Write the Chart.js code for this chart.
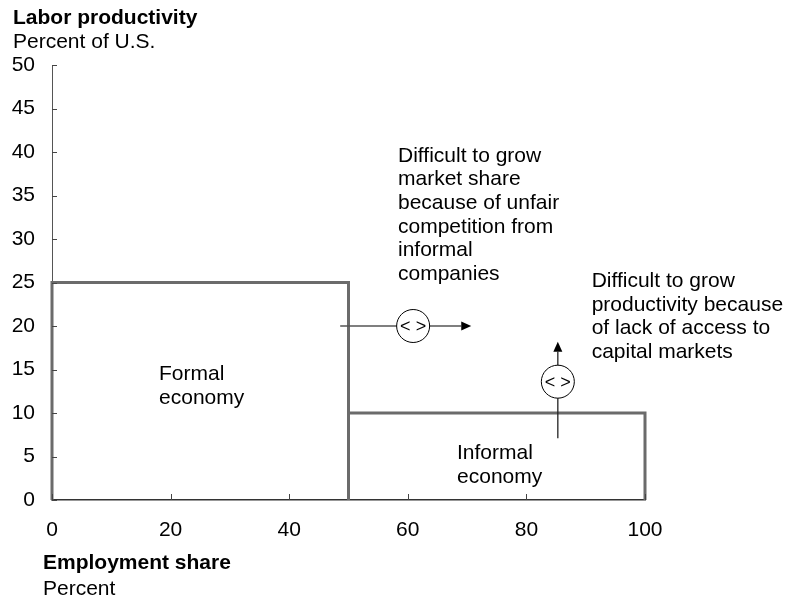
<!DOCTYPE html>
<html>
<head>
<meta charset="utf-8">
<script src="https://cdn.jsdelivr.net/npm/chart.js@4/dist/chart.umd.min.js"></script>
<style>
  html, body { margin: 0; padding: 0; background: #ffffff; }
  #wrap { width: 791px; height: 604px; position: relative; }
</style>
</head>
<body>
<div id="wrap"><canvas id="c" width="791" height="604"></canvas></div>
<script>
// ---- data ----
const formalX = [0, 0, 50, 50];
const formalY = [0, 25, 25, 0];
const informalX = [50, 50, 100, 100];
const informalY = [0, 10, 10, 0];

const yTicks = [0, 5, 10, 15, 20, 25, 30, 35, 40, 45, 50];
const xTicks = [0, 20, 40, 60, 80, 100];

const yTitle = ["Labor productivity", "Percent of U.S."];
const xTitle = ["Employment share", "Percent"];

// arrow annotations (data units)
const marketArrowX = [48.6, 70.7];
const marketArrowY = [20, 20];
const marketCircle = [60.9, 20];
const capitalArrowX = [85.3, 85.3];
const capitalArrowY = [7.1, 18.2];
const capitalCircle = [85.3, 13.6];

// text notes (anchor = first-line baseline, data units)
const noteMarket = ["Difficult to grow", "market share", "because of unfair", "competition from", "informal", "companies"];
const noteCapital = ["Difficult to grow", "productivity because", "of lack of access to", "capital markets"];
const noteFormal = ["Formal", "economy"];
const noteInformal = ["Informal", "economy"];
const noteAnchors = [
  { lines: noteMarket, x: 58.35, y: 38.9 },
  { lines: noteCapital, x: 91.0, y: 24.5 },
  { lines: noteFormal, x: 18.05, y: 13.8 },
  { lines: noteInformal, x: 68.3, y: 4.7 }
];

const FONT = "'Liberation Sans', Arial, Helvetica, sans-serif";
const toPts = (xs, ys) => xs.map((x, i) => ({ x: x, y: ys[i] }));

const decor = {
  id: 'decor',
  afterDatasetsDraw(chart) {
    const ctx = chart.ctx;
    const xs = chart.scales.x, ys = chart.scales.y;
    const ca = chart.chartArea;
    ctx.save();
    // inward tick marks
    ctx.strokeStyle = '#444';
    ctx.lineWidth = 1;
    ctx.beginPath();
    yTicks.forEach(v => {
      const py = Math.round(ys.getPixelForValue(v)) + 0.5;
      ctx.moveTo(ca.left, py); ctx.lineTo(ca.left + 5, py);
    });
    xTicks.forEach(v => {
      const px = Math.round(xs.getPixelForValue(v)) + 0.5;
      ctx.moveTo(px, ca.bottom); ctx.lineTo(px, ca.bottom - 6);
    });
    ctx.stroke();

    // arrows
    function arrow(x0, y0, x1, y1, color) {
      const p0 = [xs.getPixelForValue(x0), ys.getPixelForValue(y0)];
      const p1 = [xs.getPixelForValue(x1), ys.getPixelForValue(y1)];
      const ang = Math.atan2(p1[1] - p0[1], p1[0] - p0[0]);
      const L = 10, W = 4.5;
      ctx.strokeStyle = color; ctx.lineWidth = 1.3;
      ctx.beginPath();
      ctx.moveTo(p0[0], p0[1]);
      ctx.lineTo(p1[0] - L * Math.cos(ang), p1[1] - L * Math.sin(ang));
      ctx.stroke();
      ctx.fillStyle = '#000';
      ctx.beginPath();
      ctx.moveTo(p1[0], p1[1]);
      ctx.lineTo(p1[0] - L * Math.cos(ang) - W * Math.sin(ang), p1[1] - L * Math.sin(ang) + W * Math.cos(ang));
      ctx.lineTo(p1[0] - L * Math.cos(ang) + W * Math.sin(ang), p1[1] - L * Math.sin(ang) - W * Math.cos(ang));
      ctx.closePath();
      ctx.fill();
    }
    function circle(cx, cy) {
      const px = xs.getPixelForValue(cx), py = ys.getPixelForValue(cy);
      ctx.beginPath();
      ctx.arc(px, py, 16.5, 0, Math.PI * 2);
      ctx.fillStyle = '#fff'; ctx.fill();
      ctx.strokeStyle = '#000'; ctx.lineWidth = 1; ctx.stroke();
      ctx.fillStyle = '#000';
      ctx.font = '18px ' + FONT;
      ctx.textAlign = 'center'; ctx.textBaseline = 'middle';
      ctx.fillText('< >', px, py + 1);
    }
    arrow(marketArrowX[0], marketArrowY[0], marketArrowX[1], marketArrowY[1], '#555');
    circle(marketCircle[0], marketCircle[1]);
    arrow(capitalArrowX[0], capitalArrowY[0], capitalArrowX[1], capitalArrowY[1], '#222');
    circle(capitalCircle[0], capitalCircle[1]);

    // notes
    ctx.fillStyle = '#000';
    ctx.font = '21px ' + FONT;
    ctx.textAlign = 'left'; ctx.textBaseline = 'alphabetic';
    noteAnchors.forEach(n => {
      const px = xs.getPixelForValue(n.x), py = ys.getPixelForValue(n.y);
      n.lines.forEach((t, i) => ctx.fillText(t, px, py + i * 23.7));
    });

    // axis titles
    ctx.font = 'bold 21px ' + FONT;
    ctx.fillText(yTitle[0], 13, 24);
    ctx.fillText(xTitle[0], 43, 569);
    ctx.font = '21px ' + FONT;
    ctx.fillText(yTitle[1], 13, 48);
    ctx.fillText(xTitle[1], 43, 595);
    ctx.restore();
  }
};

new Chart(document.getElementById('c'), {
  type: 'scatter',
  data: {
    datasets: [
      { data: toPts(formalX, formalY), showLine: true, borderColor: '#6b6b6b', borderWidth: 3,
        pointRadius: 0, borderJoinStyle: 'miter', borderCapStyle: 'butt', tension: 0, clip: false },
      { data: toPts(informalX, informalY), showLine: true, borderColor: '#6b6b6b', borderWidth: 3,
        pointRadius: 0, borderJoinStyle: 'miter', borderCapStyle: 'butt', tension: 0, clip: false }
    ]
  },
  options: {
    responsive: false,
    animation: false,
    events: [],
    layout: { padding: { left: 0, top: 65, right: 146, bottom: 64 } },
    plugins: { legend: { display: false }, tooltip: { enabled: false }, title: { display: false } },
    scales: {
      x: {
        type: 'linear', min: 0, max: 100,
        afterFit: s => { s.height = 40; },
        afterBuildTicks: s => { s.ticks = xTicks.map(v => ({ value: v })); },
        ticks: { color: '#000', font: { family: FONT, size: 21 }, padding: 18, maxRotation: 0 },
        grid: { drawOnChartArea: false, drawTicks: false },
        border: { display: true, color: '#333', width: 1.5 }
      },
      y: {
        type: 'linear', min: 0, max: 50,
        afterFit: s => { s.width = 52; },
        afterBuildTicks: s => { s.ticks = yTicks.map(v => ({ value: v })); },
        ticks: { color: '#000', font: { family: FONT, size: 21 }, padding: 17 },
        grid: { drawOnChartArea: false, drawTicks: false },
        border: { display: true, color: '#555', width: 1 }
      }
    }
  },
  plugins: [decor]
});
</script>
</body>
</html>
